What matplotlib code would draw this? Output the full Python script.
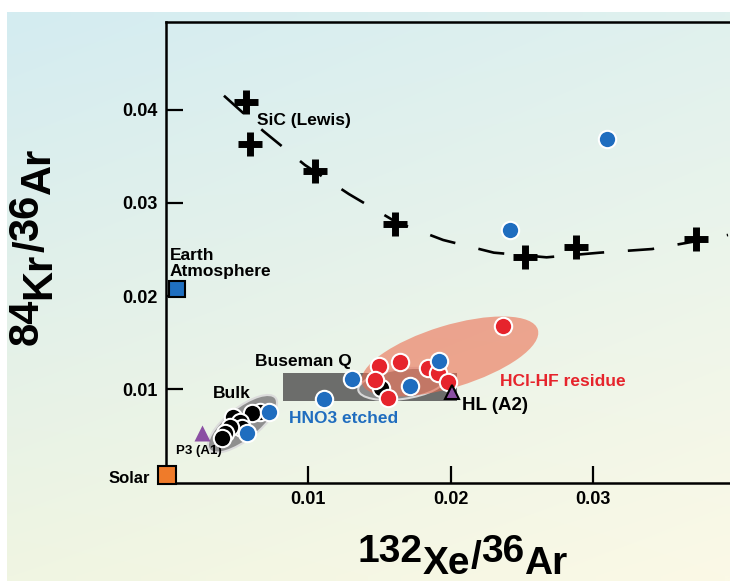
import numpy as np
import matplotlib
matplotlib.use("Agg")
import matplotlib.pyplot as plt
from matplotlib.patches import Ellipse, Rectangle
from matplotlib.transforms import Affine2D, ScaledTranslation

plt.rcParams['font.family'] = ['Liberation Sans', 'DejaVu Sans']

# ---------------- data ----------------
# SiC (Lewis) separates
sic_x = [0.00559, 0.00589, 0.01046, 0.01607, 0.02524, 0.02882, 0.03724]
sic_y = [0.0408, 0.0363, 0.03346, 0.02774, 0.02420, 0.02527, 0.02609]

# mixing curve through the SiC data
curve_x = [0.00407, 0.00683, 0.00975, 0.01284, 0.01619, 0.01946, 0.02302,
           0.02672, 0.03046, 0.03413, 0.03794, 0.03946]
curve_y = [0.04150, 0.03771, 0.03407, 0.03095, 0.02792, 0.02602, 0.02466,
           0.02416, 0.02466, 0.02505, 0.02609, 0.02656]

# bulk samples (black)
bulk_x = [0.00660, 0.00601, 0.00472, 0.00519, 0.00531, 0.00449, 0.00414, 0.00391, 0.01509]
bulk_y = [0.00760, 0.00742, 0.00700, 0.00652, 0.00582, 0.00599, 0.00528, 0.00474, 0.01009]

# HCl-HF residues (red)
resid_x = [0.01495, 0.01642, 0.01470, 0.01560, 0.01839, 0.01909, 0.01981, 0.02365]
resid_y = [0.01255, 0.01298, 0.01103, 0.00903, 0.01229, 0.01175, 0.01080, 0.01679]

# HNO3 etched samples (blue)
etch_x = [0.00723, 0.00566, 0.01303, 0.01112, 0.01712, 0.01914, 0.02414, 0.03095]
etch_y = [0.00760, 0.00534, 0.01108, 0.00901, 0.01038, 0.01306, 0.02709, 0.03686]

# reference compositions
earth_xy = (0.00080, 0.02074)
solar_xy = (0.00007, 0.00077)
p3_xy = (0.00251, 0.00534)
hl_xy = (0.02010, 0.00970)

# Q-gas field (x0, x1, y0, y1)
q_box = (0.0082, 0.0204, 0.0087, 0.0118)

x_ticks = [0.01, 0.02, 0.03]
y_ticks = [0.01, 0.02, 0.03, 0.04]

# ---------------- figure ----------------
W, H, DPI = 730, 581, 100
fig = plt.figure(figsize=(W / DPI, H / DPI), dpi=DPI, facecolor='white')

# soft blue-to-cream background
bg = fig.add_axes([0, 0, 1, 1], zorder=-10)
bg.set_axis_off()
ny, nx = 60, 80
tl = np.array([212, 236, 241]) / 255
tr = np.array([224, 241, 238]) / 255
bl = np.array([240, 245, 226]) / 255
br = np.array([251, 249, 230]) / 255
u = np.linspace(0, 1, nx)[None, :, None]
v = np.linspace(0, 1, ny)[:, None, None]
grad = (1 - v) * ((1 - u) * tl + u * tr) + v * ((1 - u) * bl + u * br)
bg.imshow(grad, extent=(7, W, H, 12), interpolation='bilinear', aspect='auto')
bg.set_xlim(0, W)
bg.set_ylim(H, 0)

ax = fig.add_axes([166 / W, 1 - 482.5 / H, 1 - 166 / W, (482.5 - 22) / H])
ax.set_facecolor('none')
ax.set_xlim(0, 0.0396)
ax.set_ylim(0, (482.5 - 22) / 9320)

for s in ['left', 'top', 'bottom']:
    ax.spines[s].set_linewidth(1.8)
ax.spines['right'].set_visible(False)

ax.set_xticks(x_ticks)
ax.set_yticks(y_ticks)
ax.set_xticklabels([f'{t:.2f}' for t in x_ticks])
ax.set_yticklabels([f'{t:.2f}' for t in y_ticks])
ax.tick_params(direction='in', length=12, width=1.6, labelsize=13, pad=6)
for lab in ax.get_xticklabels() + ax.get_yticklabels():
    lab.set_fontweight('bold')


def px_ellipse(center, w, h, angle, **kw):
    """Ellipse with pixel-sized axes centred on a data point."""
    tr_ = Affine2D() + ScaledTranslation(center[0], center[1], ax.transData)
    e = Ellipse((0, 0), w, h, angle=angle, transform=tr_, **kw)
    ax.add_patch(e)
    return e


# fields
ax.add_patch(Rectangle((q_box[0], q_box[2]), q_box[1] - q_box[0], q_box[3] - q_box[2],
                       facecolor='#5e5e5e', edgecolor='none', alpha=0.9, zorder=1))
px_ellipse((0.00537, 0.00630), 84, 32, 38, facecolor='#8f8f8f',
           edgecolor='#dcdcdc', lw=1.5, zorder=1)
px_ellipse((0.01656, 0.01057), 88, 30, 8, facecolor='#8a8a8a',
           edgecolor='#d8d8d8', lw=1.5, zorder=1.5)
px_ellipse((0.01993, 0.01352), 184, 62, 17, facecolor='#ec6a4c',
           edgecolor='none', alpha=0.58, zorder=2)

# SiC curve and data
ax.plot(curve_x, curve_y, color='black', lw=1.9, linestyle=(0, (10, 9)), zorder=3)
ax.plot(sic_x, sic_y, linestyle='none', marker='+', markersize=17,
        markeredgewidth=5, color='black', zorder=4)

mk = dict(linestyle='none', marker='o', markersize=12.5, markeredgecolor='white',
          markeredgewidth=1.5, zorder=5)
ax.plot(bulk_x, bulk_y, color='black', **mk)
ax.plot(resid_x, resid_y, color='#e6242c', **mk)
ax.plot(etch_x, etch_y, color='#1f6dbf', **mk)

ax.plot(*earth_xy, marker='s', markersize=12, color='#1f6fbf', markeredgecolor='black',
        markeredgewidth=1.5, clip_on=False, zorder=6)
ax.plot(*solar_xy, marker='s', markersize=12.5, color='#ef7b2a', markeredgecolor='black',
        markeredgewidth=1.5, clip_on=False, zorder=6)
ax.plot(*p3_xy, marker='^', markersize=12, color='#8b4fa3', markeredgecolor='none', zorder=6)
ax.plot(*hl_xy, marker='^', markersize=10, color='#8b4fa3', markeredgecolor='black',
        markeredgewidth=1.5, zorder=6)

# annotations
txt = dict(fontweight='bold', va='center', ha='left')
ax.text(0.00637, 0.03879, 'SiC (Lewis)', fontsize=12.5, **txt)
ax.text(0.00028, 0.02183, 'Earth\nAtmosphere', fontsize=12.5, fontweight='bold',
        ha='left', va='bottom', linespacing=1.1)
ax.text(-0.0011, 0.00048, 'Solar', fontsize=12, fontweight='bold', ha='right', va='center')
ax.text(0.0033, 0.0095, 'Bulk', fontsize=12.5, **txt)
ax.text(0.0007, 0.00338, 'P3 (A1)', fontsize=9.5, **txt)
ax.text(0.00625, 0.01296, 'Buseman Q', fontsize=12.5, **txt)
ax.text(0.00863, 0.00692, 'HNO3 etched', fontsize=12.5, color='#1f6dbf', **txt)
ax.text(0.02075, 0.00821, 'HL (A2)', fontsize=13.5, **txt)
ax.text(0.02344, 0.01089, 'HCl-HF residue', fontsize=12.5, color='#e6242c', **txt)

# axis titles with raised mass numbers
renderer = fig.canvas.get_renderer()


def isotope_label(pieces, start, base, size, lift, vertical=False):
    pos = start
    for s, lvl in pieces:
        off = lvl * lift
        if vertical:
            t = fig.text((base - off) / W, pos / H, s, rotation=90, rotation_mode='anchor',
                         ha='left', va='baseline', fontsize=size, fontweight='bold')
            pos += t.get_window_extent(renderer).height
        else:
            t = fig.text(pos / W, (base + off) / H, s, ha='left', va='baseline',
                         fontsize=size, fontweight='bold')
            pos += t.get_window_extent(renderer).width


isotope_label([('132', 1), ('Xe', 0), ('/', 0.5), ('36', 1), ('Ar', 0)],
              start=358, base=7, size=28, lift=12)
isotope_label([('84', 1), ('Kr', 0), ('/', 0.5), ('36', 1), ('Ar', 0)],
              start=581 - 345, base=50, size=30, lift=12, vertical=True)

fig.savefig('out.png', dpi=DPI, facecolor='white')
